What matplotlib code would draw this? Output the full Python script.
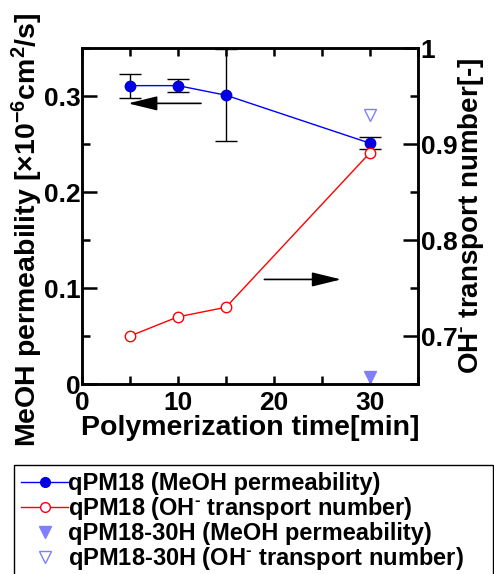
import matplotlib
matplotlib.use('Agg')
import matplotlib.pyplot as plt
from matplotlib.lines import Line2D
from matplotlib.ticker import MultipleLocator

plt.rcParams['font.family'] = ['Liberation Sans', 'DejaVu Sans']
plt.rcParams['font.weight'] = 'bold'
plt.rcParams['mathtext.fontset'] = 'custom'
plt.rcParams['mathtext.rm'] = 'Liberation Sans:bold'
plt.rcParams['mathtext.default'] = 'rm'

# data
time_min = [5, 10, 15, 30]
meoh_perm = [0.311, 0.311, 0.301, 0.251]
meoh_err = [0.0125, 0.007, 0.048, 0.006]
oh_transport = [0.70, 0.72, 0.73, 0.891]

h30_time = [30]
h30_meoh = [0.007]
h30_oh = [0.93]

fig = plt.figure(figsize=(4.94, 5.74), dpi=100)
ax = fig.add_axes([0.166, 0.331, 0.680, 0.585])
ax2 = ax.twinx()

ax.errorbar(time_min, meoh_perm, yerr=meoh_err, fmt='none', ecolor='black',
            elinewidth=1, capsize=8, capthick=1, zorder=2)
ax.plot(time_min, meoh_perm, '-o', color='blue', mfc='#0000e0', mec='#0000e0',
        lw=1, ms=7.5, zorder=3)
ax.plot(h30_time, h30_meoh, 'v', color='#7f7fff', ms=9, clip_on=False, zorder=3)

ax2.plot(time_min, oh_transport, '-o', color='red', mfc='white', mec='red',
         lw=1, ms=7.5, mew=1, zorder=3)
ax2.plot(h30_time, h30_oh, 'v', color='#7f7fff', mfc='white', mec='#7f7fff',
         ms=9, mew=1, zorder=3)

# arrows pointing at each axis
arrow = dict(arrowstyle='-|>,head_length=0.9,head_width=0.22', color='black',
             lw=1.2, mutation_scale=20, shrinkA=0, shrinkB=0)
ax.annotate('', xy=(4.8, 0.2925), xytext=(12.4, 0.2925), arrowprops=arrow)
ax.annotate('', xy=(27.0, 0.109), xytext=(19.0, 0.109), arrowprops=arrow)

ax.set_xlim(0, 35)
ax.set_ylim(0, 0.35)
ax2.set_ylim(0.65, 1.0)

ax.xaxis.set_major_locator(MultipleLocator(10))
ax.xaxis.set_minor_locator(MultipleLocator(5))
ax.yaxis.set_major_locator(MultipleLocator(0.1))
ax.yaxis.set_minor_locator(MultipleLocator(0.05))
ax2.yaxis.set_major_locator(MultipleLocator(0.1))
ax2.yaxis.set_minor_locator(MultipleLocator(0.05))
ax.xaxis.set_major_formatter(plt.FuncFormatter(lambda v, p: '%d' % v))
ax.yaxis.set_major_formatter(plt.FuncFormatter(lambda v, p: '0' if v == 0 else '%.1f' % v))
ax2.yaxis.set_major_formatter(plt.FuncFormatter(lambda v, p: '1' if abs(v - 1) < 1e-9 else '%.1f' % v))

ax.tick_params(axis='x', which='both', direction='in', top=True, length=6,
               width=1.8, labelsize=19, pad=5)
ax.tick_params(axis='y', which='major', direction='in', length=11, width=1.8,
               labelsize=19, pad=1)
ax.tick_params(axis='y', which='minor', direction='in', length=6, width=1.8)
ax2.tick_params(axis='y', which='major', direction='in', length=11, width=1.8,
                labelsize=19, pad=2)
ax2.tick_params(axis='y', which='minor', direction='in', length=6, width=1.8)
for a in (ax, ax2):
    for s in a.spines.values():
        s.set_linewidth(1.8)

ax.set_xlabel('Polymerization time[min]', fontsize=20.5, fontweight='bold', labelpad=0)
ax.set_ylabel(r'MeOH permeability [$\times$10$^{-6}$cm$^{2}$/s]', fontsize=20.5,
              fontweight='bold')
ax.yaxis.set_label_coords(-0.110, 0.461)
ax2.set_ylabel(r'OH$^{\text{-}}$ transport number[-]', fontsize=20,
               fontweight='bold', labelpad=-1)

handles = [
    Line2D([], [], color='blue', marker='o', mfc='#0000e0', mec='#0000e0', lw=1, ms=7),
    Line2D([], [], color='red', marker='o', mfc='white', mec='red', lw=1, ms=7),
    Line2D([], [], color='#7f7fff', marker='v', ls='none', ms=9),
    Line2D([], [], color='#7f7fff', marker='v', mfc='white', ls='none', ms=9),
]
labels = ['qPM18 (MeOH permeability)',
          r'qPM18 (OH$^{\text{-}}$ transport number)',
          'qPM18-30H (MeOH permeability)',
          r'qPM18-30H (OH$^{\text{-}}$ transport number)']
leg = fig.legend(handles, labels, loc='upper left',
                 bbox_to_anchor=(14 / 494, 0.0, 479 / 494, 1 - 465 / 574),
                 mode='expand', borderaxespad=0,
                 prop={'weight': 'bold', 'size': 17},
                 fancybox=False, edgecolor='black', framealpha=1,
                 handlelength=2.0, handletextpad=0.0, labelspacing=0.0,
                 borderpad=0.3)
leg.get_frame().set_linewidth(1)

fig.savefig('out.png', dpi=100)
